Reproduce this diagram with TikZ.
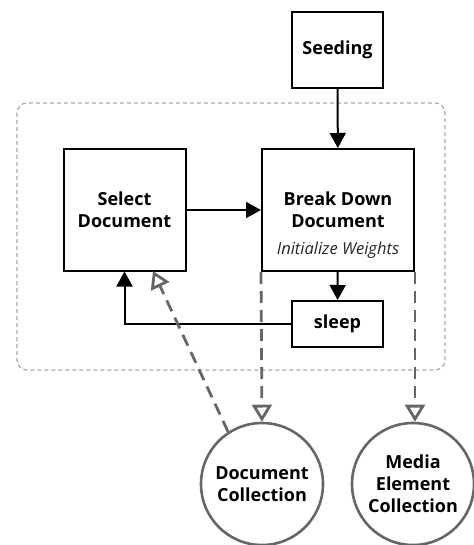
\documentclass[tikz,border=0pt]{standalone}
\usepackage{fontspec}
\setsansfont{Open Sans}
\usetikzlibrary{arrows.meta}
\definecolor{darkgrey}{HTML}{666666}
\definecolor{lightgrey}{HTML}{AAAAAA}

\begin{document}
\begin{tikzpicture}[x=1pt, y=-1pt,
        font=\sffamily\bfseries\fontsize{18}{22}\selectfont,
        box/.style={draw, line width=2pt, align=center, inner sep=0pt},
        store/.style={draw=darkgrey, circle, line width=2.6pt, minimum size=122pt, align=center, inner sep=0pt},
        flow/.style={-{Triangle[length=15pt, width=16pt]}, line width=2pt},
        uses/.style={-{Triangle[open, length=17pt, width=20pt]}, darkgrey, line width=2.8pt, dash pattern=on 12pt off 7pt}]
        \useasboundingbox (0,0) rectangle (473,545);
        % process boundary
        \draw[lightgrey, line width=1.3pt, dash pattern=on 4pt off 3pt, rounded corners=10pt] (17,103) rectangle (445,370);
        
        \node[box, minimum width=91pt, minimum height=76pt] (seed) at (337.5,50) {Seeding};
        \node[box, minimum width=122pt, minimum height=121pt] (select) at (124.5,210) {Select\\Document};
        \node[box, minimum width=152pt, minimum height=122pt] (brk) at (338,210) {Break Down\\Document};
        \node[font=\sffamily\itshape\fontsize{16.5}{18}\selectfont, text=black!85] (weights) at (338,250) {Initialize Weights};
        \node[box, minimum width=91pt, minimum height=46pt] (sleep) at (337.5,324) {sleep};
        
        \node[store] (doccol) at (262,484) {Document\\Collection};
        \node[store] (medcol) at (413,484) {Media\\Element\\Collection};
        
        \draw[flow] (seed) -- (brk);
        \draw[flow] (select) -- (brk);
        \draw[flow] (brk) -- (sleep);
        \draw[flow] (sleep.west) -| (select.south);
        
        \coordinate (selin) at (153,271);
        \draw[uses] (doccol.123) -- (selin);
        \draw[uses] (brk.south west) -- (doccol.north);
        \draw[uses] (brk.south east) -- (brk.south east |- medcol.north);
    \end{tikzpicture}
\end{document}
